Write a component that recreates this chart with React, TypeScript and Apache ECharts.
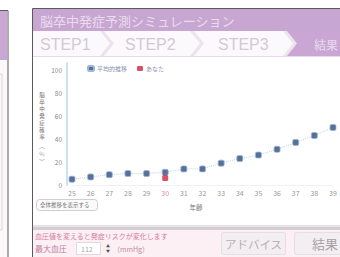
import React, { useEffect, useRef } from "react";
import * as echarts from "echarts";

const ages = ["25", "26", "27", "28", "29", "30", "31", "32", "33", "34", "35", "36", "37", "38", "39"];
const averageRisk = [5, 7, 9, 10, 10, 11, 14, 14, 19, 23, 26, 31, 37, 43, 50];
const yourRisk: (number | string)[] = ["-", "-", "-", "-", "-", 6, "-", "-", "-", "-", "-", "-", "-", "-", "-"];
const currentAge = "30";
const seriesNames = ["平均的推移", "あなた"];
const titleText = "脳卒中発症予測シミュレーション";
const stepLabels = ["STEP1", "STEP2", "STEP3", "結果"];
const yAxisName = "脳卒中発症確率";
const yAxisUnit = "︵％︶";
const xAxisName = "年齢";

const FONT = "'Noto Sans CJK JP', 'Noto Sans', sans-serif";

export default function App() {
  const ref = useRef<HTMLDivElement>(null);
  useEffect(() => {
    if (!ref.current) return;
    const chart = echarts.init(ref.current, undefined, { renderer: "svg" });
    const vert = (s: string) => s.split("").join("\n");
    const option: any = {
      animation: false,
      backgroundColor: "#ffffff",
      textStyle: { fontFamily: FONT },
      legend: {
        top: 60,
        left: 82,
        itemWidth: 6,
        itemHeight: 5,
        itemGap: 10,
        icon: "roundRect",
        textStyle: { fontSize: 6, color: "#8a96b0", fontFamily: FONT, padding: [0, 0, 0, -2] },
        data: seriesNames,
      },
      grid: { left: 72, right: 7, top: 63, bottom: 72 },
      xAxis: {
        type: "category",
        data: ages,
        boundaryGap: false,
        axisLine: { show: true, lineStyle: { color: "#eef2f8", width: 1 } },
        axisTick: { show: false },
        axisLabel: {
          fontSize: 7,
          margin: 4,
          fontFamily: FONT,
          color: (v: string) => (v === currentAge ? "#d98a9c" : "#9a9a9a"),
        },
        splitLine: { show: false },
      },
      yAxis: {
        type: "value",
        min: 0,
        max: 106,
        interval: 20,
        offset: 5,
        axisLine: { show: true, lineStyle: { color: "#cfe0f2", width: 2 } },
        axisTick: { show: false },
        splitLine: { show: false },
        axisLabel: {
          fontSize: 6.5,
          margin: 5,
          color: "#8a8a8a",
          fontFamily: FONT,
          formatter: (v: number) => (v % 20 === 0 ? String(v) : ""),
        },
      },
      series: [
        {
          name: seriesNames[0],
          type: "line",
          data: averageRisk,
          symbol: "roundRect",
          symbolSize: 6,
          itemStyle: { color: "#56709a", borderColor: "#9fb6d4", borderWidth: 0.8 },
          lineStyle: { color: "#b9d2ec", width: 1, type: "dotted" },
          z: 2,
        },
        {
          name: seriesNames[1],
          type: "scatter",
          data: yourRisk,
          symbol: "roundRect",
          symbolSize: 6,
          itemStyle: { color: "#d4233f" },
          z: 3,
        },
      ],
      graphic: [
        // left neighbour frame
        { type: "rect", shape: { x: -10, y: 10.5, width: 18, height: 260 }, style: { fill: "#fbf8fa", stroke: "#5a5a5a", lineWidth: 1 }, z: -10 },
        { type: "rect", shape: { x: -10, y: 11, width: 17.5, height: 49 }, style: { fill: "#c9a8d3" }, z: -9 },
        { type: "rect", shape: { x: -5, y: 74, width: 7, height: 156 }, style: { fill: "none", stroke: "#d8d8d8" }, z: -9 },
        // main panel
        { type: "rect", shape: { x: 32.5, y: 8.5, width: 320, height: 260 }, style: { fill: "none", stroke: "#5a5a5a", lineWidth: 1 }, z: 5 },
        { type: "rect", shape: { x: 33, y: 9, width: 310, height: 22 }, style: { fill: "#c8a6d2" }, z: 4 },
        { type: "text", x: 40, y: 20, style: { text: titleText, fontSize: 13, fill: "#eadcee", fontFamily: FONT, textVerticalAlign: "middle" }, z: 6 },
        { type: "rect", shape: { x: 33, y: 31, width: 310, height: 25 }, style: { fill: "#ede3ee" }, z: 4 },
        { type: "polygon", shape: { points: [[33, 31], [100, 31], [110, 43.5], [100, 56], [33, 56]] }, style: { fill: "#fcf9fc" }, z: 5 },
        { type: "polygon", shape: { points: [[104, 31], [190, 31], [200, 43.5], [190, 56], [104, 56], [114, 43.5]] }, style: { fill: "#fcf9fc" }, z: 5 },
        { type: "polygon", shape: { points: [[194, 31], [283, 31], [293, 43.5], [283, 56], [194, 56], [204, 43.5]] }, style: { fill: "#fcf9fc" }, z: 5 },
        { type: "polygon", shape: { points: [[287, 31], [345, 31], [345, 56], [287, 56], [297, 43.5]] }, style: { fill: "#c9a6d3" }, z: 5 },
        { type: "text", x: 40, y: 44, style: { text: stepLabels[0], fontSize: 16, fill: "#d2c9d4", fontFamily: "'Liberation Sans', Arial, sans-serif", textVerticalAlign: "middle" }, z: 6 },
        { type: "text", x: 125, y: 44, style: { text: stepLabels[1], fontSize: 16, fill: "#d2c9d4", fontFamily: "'Liberation Sans', Arial, sans-serif", textVerticalAlign: "middle" }, z: 6 },
        { type: "text", x: 218, y: 44, style: { text: stepLabels[2], fontSize: 16, fill: "#d2c9d4", fontFamily: "'Liberation Sans', Arial, sans-serif", textVerticalAlign: "middle" }, z: 6 },
        { type: "text", x: 314, y: 44, style: { text: stepLabels[3], fontSize: 12, fill: "#eadcee", fontFamily: FONT, textVerticalAlign: "middle" }, z: 6 },
        { type: "line", shape: { x1: 33, y1: 56.5, x2: 345, y2: 56.5 }, style: { stroke: "#e4dce5", lineWidth: 1 }, z: 5 },
        // y axis name (vertical)
        { type: "text", x: 42, y: 91, style: { text: vert(yAxisName), fontSize: 5.5, lineHeight: 7, fill: "#6f6f6f", fontFamily: FONT, textAlign: "center" }, z: 6 },
        { type: "text", x: 42, y: 141, style: { text: vert(yAxisUnit), fontSize: 6, lineHeight: 8, fill: "#a8a8a8", fontFamily: FONT, textAlign: "center" }, z: 6 },
        // chart bottom controls
        { type: "rect", shape: { x: 36.5, y: 199.5, width: 61, height: 11, r: 3 }, style: { fill: "#fafafa", stroke: "#cfcfcf", lineWidth: 1 }, z: 5 },
        { type: "text", x: 40, y: 205, style: { text: "全体推移を表示する", fontSize: 5.5, fill: "#777", fontFamily: FONT, textVerticalAlign: "middle" }, z: 6 },
        { type: "text", x: 196, y: 207, style: { text: xAxisName, fontSize: 6.5, fill: "#777", fontFamily: FONT, textAlign: "center", textVerticalAlign: "middle" }, z: 6 },
        // footer
        { type: "rect", shape: { x: 33, y: 225, width: 310, height: 2 }, style: { fill: "#e6e2e6" }, z: 4 },
        { type: "rect", shape: { x: 33, y: 227, width: 310, height: 3 }, style: { fill: "#d2ced2" }, z: 4 },
        { type: "rect", shape: { x: 33, y: 230, width: 310, height: 30 }, style: { fill: "#fcf0f5" }, z: 4 },
        { type: "text", x: 35, y: 236, style: { text: "血圧値を変えると発症リスクが変化します", fontSize: 7, fill: "#d67c9a", fontFamily: FONT, textVerticalAlign: "middle" }, z: 6 },
        { type: "text", x: 35, y: 248.5, style: { text: "最大血圧", fontSize: 8, fill: "#c07c98", fontFamily: FONT, textVerticalAlign: "middle" }, z: 6 },
        { type: "rect", shape: { x: 76.5, y: 242.5, width: 24, height: 12 }, style: { fill: "#ffffff", stroke: "#e2d8de" }, z: 5 },
        { type: "text", x: 81, y: 248.5, style: { text: "112", fontSize: 7, fill: "#aaa", fontFamily: FONT, textVerticalAlign: "middle" }, z: 6 },
        { type: "text", x: 108, y: 246, style: { text: "▲", fontSize: 4, fill: "#555", fontFamily: FONT, textAlign: "center", textVerticalAlign: "middle" }, z: 6 },
        { type: "text", x: 108, y: 250.5, style: { text: "▼", fontSize: 4, fill: "#555", fontFamily: FONT, textAlign: "center", textVerticalAlign: "middle" }, z: 6 },
        { type: "text", x: 113, y: 248.5, style: { text: "（mmHg）", fontSize: 7, fill: "#c08ca0", fontFamily: FONT, textVerticalAlign: "middle" }, z: 6 },
        { type: "rect", shape: { x: 221.5, y: 232.5, width: 64, height: 22, r: 2 }, style: { fill: "#f2eef1", stroke: "#e4dfe3" }, z: 5 },
        { type: "text", x: 253.5, y: 243.5, style: { text: "アドバイス", fontSize: 11.5, fill: "#b7afb6", fontFamily: FONT, textAlign: "center", textVerticalAlign: "middle" }, z: 6 },
        { type: "rect", shape: { x: 294.5, y: 232.5, width: 60, height: 22, r: 2 }, style: { fill: "#f2eef1", stroke: "#e4dfe3" }, z: 5 },
        { type: "text", x: 312, y: 243.5, style: { text: "結果", fontSize: 13, fill: "#a9a1a8", fontFamily: FONT, textVerticalAlign: "middle" }, z: 6 },
      ],
    };
    chart.setOption(option);
    return () => chart.dispose();
  }, []);
  return (
    <div
      ref={ref}
      style={{ position: "fixed", left: 0, top: 0, width: 340, height: 257, overflow: "hidden", background: "#fff" }}
    />
  );
}
